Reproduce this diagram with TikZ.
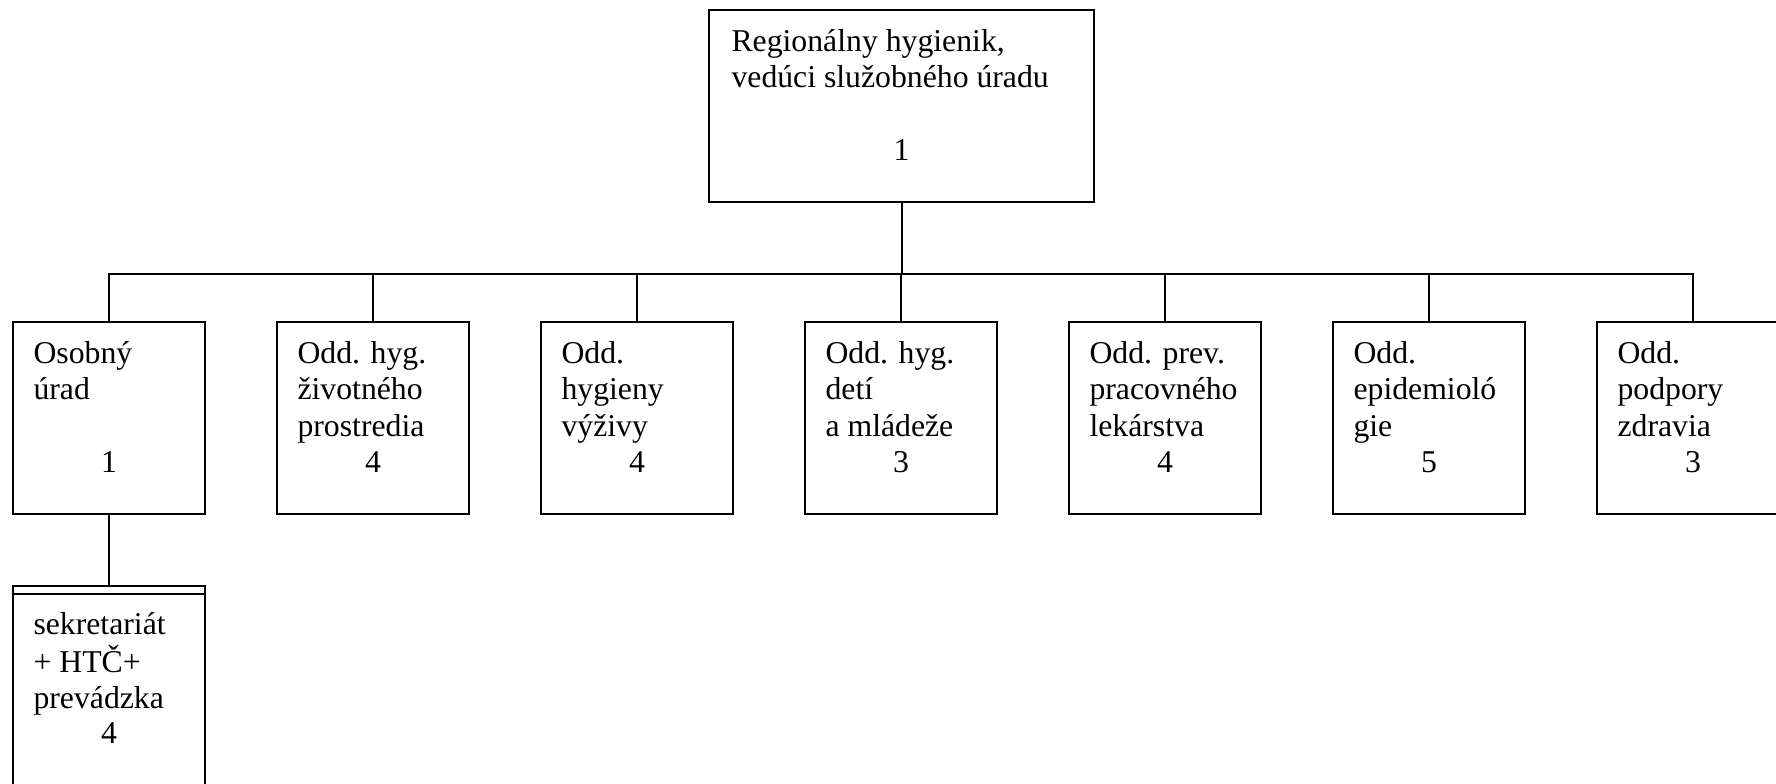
\documentclass[tikz,border=0pt]{standalone}
\usepackage{fontspec}
\setmainfont{Liberation Serif}
\usetikzlibrary{calc}
\newcommand{\mylines}[1]{\begin{tabular}[t]{@{}l@{}}#1\end{tabular}}
\begin{document}
\begin{tikzpicture}[x=0.375pt,y=-0.375pt,
  box/.style={draw,line width=0.75pt,inner sep=0pt,outer sep=0pt,minimum width=72pt,minimum height=72pt},
  txt/.style={anchor=base west,inner sep=0pt,font=\fontsize{11.9}{13.69}\selectfont},
  num/.style={anchor=base,inner sep=0pt,font=\fontsize{11.9}{13.69}\selectfont},
  conn/.style={line width=0.75pt}]
\useasboundingbox (0,0) rectangle (1776,783);
% boxes
\node[box,minimum width=144.375pt] (top) at (901.5,106) {};
\foreach \i in {1,...,7} \node[box] (b\i) at ({109+264*(\i-1)},418) {};
\node[box,minimum height=82.5pt] (sek) at (109,696) {};
\draw[conn] ($(sek.north west)+(0,8)$) -- ($(sek.north east)+(0,8)$);
% connectors
\coordinate (bus) at (901.5,274);
\foreach \i in {1,...,7} \draw[conn] (top.south) -- (bus) -| (b\i.north);
\draw[conn] (b1.south) -- (sek.north);
% texts
\node[txt] (t0) at ($(top.north west)+(22,41)$) {\mylines{Regionálny hygienik,\\vedúci služobného úradu}};
\node[num] (n0) at ($(top.north)+(0,150.5)$) {1};
\foreach \i/\t/\n in {1/{Osobný\\úrad}/1,
                      2/{Odd. hyg.\\životného\\prostredia}/4,
                      3/{Odd.\\hygieny\\výživy}/4,
                      4/{Odd. hyg.\\detí\\a mládeže}/3,
                      5/{Odd. prev.\\pracovného\\lekárstva}/4,
                      6/{Odd.\\epidemioló\\gie}/5,
                      7/{Odd.\\podpory\\zdravia}/3}{
  \node[txt] (t\i) at ($(b\i.north west)+(20,41)$) {\mylines{\t}};
  \node[num] (n\i) at ($(b\i.north)+(0,150.5)$) {\n};
}
\node[txt] (ts) at ($(sek.north west)+(20,48)$) {\mylines{sekretariát\\+ HTČ+\\prevádzka}};
\node[num] (ns) at ($(sek.north)+(0,157.5)$) {4};
\end{tikzpicture}
\end{document}
